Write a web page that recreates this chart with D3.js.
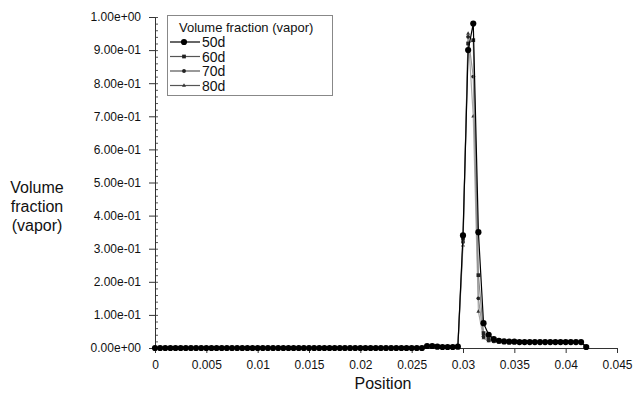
<!DOCTYPE html>
<html>
<head>
<meta charset="utf-8">
<script src="https://cdn.jsdelivr.net/npm/d3@7"></script>
<style>
  body { margin: 0; background: #fff; }
  svg { display: block; font-family: "Liberation Sans", Arial, sans-serif; }
</style>
</head>
<body>
<svg id="chart" width="633" height="405"></svg>
<script>
// positions along the line (m)
var positions = [
  0, 0.0005, 0.001, 0.0015, 0.002, 0.0025, 0.003, 0.0035, 0.004, 0.0045,
  0.005, 0.0055, 0.006, 0.0065, 0.007, 0.0075, 0.008, 0.0085, 0.009, 0.0095,
  0.01, 0.0105, 0.011, 0.0115, 0.012, 0.0125, 0.013, 0.0135, 0.014, 0.0145,
  0.015, 0.0155, 0.016, 0.0165, 0.017, 0.0175, 0.018, 0.0185, 0.019, 0.0195,
  0.02, 0.0205, 0.021, 0.0215, 0.022, 0.0225, 0.023, 0.0235, 0.024, 0.0245,
  0.025, 0.0255, 0.026, 0.0265, 0.027, 0.0275, 0.028, 0.0285, 0.029, 0.0295,
  0.03, 0.0305, 0.031, 0.0315, 0.032, 0.0325, 0.033, 0.0335, 0.034, 0.0345,
  0.035, 0.0355, 0.036, 0.0365, 0.037, 0.0375, 0.038, 0.0385, 0.039, 0.0395,
  0.04, 0.0405, 0.041, 0.0415, 0.042
];

var vf50 = [
  0, 0, 0, 0, 0, 0, 0, 0, 0, 0,
  0, 0, 0, 0, 0, 0, 0, 0, 0, 0,
  0, 0, 0, 0, 0, 0, 0, 0, 0, 0,
  0, 0, 0, 0, 0, 0, 0, 0, 0, 0,
  0, 0, 0, 0, 0, 0, 0, 0, 0, 0,
  0, 0, 0, 0.006, 0.006, 0.004, 0.003, 0.003, 0.003, 0.004,
  0.34, 0.90, 0.98, 0.35, 0.075, 0.04, 0.027, 0.022, 0.02, 0.019,
  0.019, 0.018, 0.018, 0.018, 0.018, 0.018, 0.018, 0.018, 0.018, 0.018,
  0.018, 0.018, 0.018, 0.018, 0.003
];
var vf60 = [
  0, 0, 0, 0, 0, 0, 0, 0, 0, 0,
  0, 0, 0, 0, 0, 0, 0, 0, 0, 0,
  0, 0, 0, 0, 0, 0, 0, 0, 0, 0,
  0, 0, 0, 0, 0, 0, 0, 0, 0, 0,
  0, 0, 0, 0, 0, 0, 0, 0, 0, 0,
  0, 0, 0, 0.006, 0.006, 0.004, 0.003, 0.003, 0.003, 0.004,
  0.33, 0.92, 0.93, 0.22, 0.045, 0.026, 0.021, 0.02, 0.019, 0.019,
  0.018, 0.018, 0.018, 0.018, 0.018, 0.018, 0.018, 0.018, 0.018, 0.018,
  0.018, 0.018, 0.018, 0.018, 0.003
];
var vf70 = [
  0, 0, 0, 0, 0, 0, 0, 0, 0, 0,
  0, 0, 0, 0, 0, 0, 0, 0, 0, 0,
  0, 0, 0, 0, 0, 0, 0, 0, 0, 0,
  0, 0, 0, 0, 0, 0, 0, 0, 0, 0,
  0, 0, 0, 0, 0, 0, 0, 0, 0, 0,
  0, 0, 0, 0.006, 0.006, 0.004, 0.003, 0.003, 0.003, 0.004,
  0.32, 0.94, 0.82, 0.15, 0.035, 0.023, 0.02, 0.019, 0.019, 0.018,
  0.018, 0.018, 0.018, 0.018, 0.018, 0.018, 0.018, 0.018, 0.018, 0.018,
  0.018, 0.018, 0.018, 0.018, 0.003
];
var vf80 = [
  0, 0, 0, 0, 0, 0, 0, 0, 0, 0,
  0, 0, 0, 0, 0, 0, 0, 0, 0, 0,
  0, 0, 0, 0, 0, 0, 0, 0, 0, 0,
  0, 0, 0, 0, 0, 0, 0, 0, 0, 0,
  0, 0, 0, 0, 0, 0, 0, 0, 0, 0,
  0, 0, 0, 0.006, 0.006, 0.004, 0.003, 0.003, 0.003, 0.004,
  0.31, 0.95, 0.70, 0.11, 0.03, 0.021, 0.02, 0.019, 0.018, 0.018,
  0.018, 0.018, 0.018, 0.018, 0.018, 0.018, 0.018, 0.018, 0.018, 0.018,
  0.018, 0.018, 0.018, 0.018, 0.003
];

var seriesNames = ["50d", "60d", "70d", "80d"];
var xTicks = [0, 0.005, 0.01, 0.015, 0.02, 0.025, 0.03, 0.035, 0.04, 0.045];
var yTicks = [0, 0.1, 0.2, 0.3, 0.4, 0.5, 0.6, 0.7, 0.8, 0.9, 1.0];

var svg = d3.select("#chart");

var x = d3.scaleLinear().domain([0, 0.045]).range([155, 617]);
var y = d3.scaleLinear().domain([0, 1]).range([348, 17]);

// look of each series
var styles = [
  {line: "#000", mark: "#000", sym: d3.symbolCircle, size: 30},
  {line: "#8a8a8a", mark: "#222", sym: d3.symbolSquare, size: 14},
  {line: "#9a9a9a", mark: "#222", sym: d3.symbolCircle, size: 12},
  {line: "#aaaaaa", mark: "#333", sym: d3.symbolTriangle, size: 7}
];

var allSeries = [vf50, vf60, vf70, vf80].map(function(vals, i) {
  return {name: seriesNames[i], pts: positions.map(function(p, j) { return [p, vals[j]]; })};
});

// x axis
var xAxis = svg.append("g")
  .attr("transform", "translate(0," + y(0) + ")")
  .call(d3.axisBottom(x).tickValues(xTicks).tickSize(5).tickPadding(7)
    .tickFormat(function(d) { return String(+d.toFixed(3)); }));
xAxis.select(".domain").attr("stroke", "#333");
xAxis.selectAll(".tick line").attr("stroke", "#333");
xAxis.selectAll("text").attr("font-size", 12).attr("fill", "#111")
  .attr("font-family", "Liberation Sans, Arial, sans-serif");

// y axis minor ticks
var minor = d3.range(0, 51).map(function(k) { return k / 50; });
var yMinor = svg.append("g")
  .attr("transform", "translate(" + x(0) + ",0)")
  .call(d3.axisRight(y).tickValues(minor).tickSize(3).tickFormat(""));
yMinor.select(".domain").remove();
yMinor.selectAll(".tick line").attr("stroke", "#555");

// y axis
var yAxis = svg.append("g")
  .attr("transform", "translate(" + x(0) + ",0)")
  .call(d3.axisLeft(y).tickValues(yTicks).tickSize(6).tickPadding(8)
    .tickFormat(function(d) {
      return d.toExponential(2).replace("e-", "e-0").replace("e+", "e+0");
    }));
yAxis.select(".domain").attr("stroke", "#333");
yAxis.selectAll(".tick line").attr("stroke", "#333");
yAxis.selectAll("text").attr("font-size", 12).attr("fill", "#111")
  .attr("font-family", "Liberation Sans, Arial, sans-serif");

// lines, drawn from the lightest one so 50d sits on top
var line = d3.line().x(function(d) { return x(d[0]); }).y(function(d) { return y(d[1]); });

for (var i = allSeries.length - 1; i >= 0; i--) {
  var s = allSeries[i], st = styles[i];
  svg.append("path")
    .datum(s.pts)
    .attr("d", line)
    .attr("fill", "none")
    .attr("stroke", st.line)
    .attr("stroke-width", 1.2);
  svg.append("g").selectAll("path")
    .data(s.pts)
    .enter().append("path")
    .attr("transform", function(d) { return "translate(" + x(d[0]) + "," + y(d[1]) + ")"; })
    .attr("d", d3.symbol().type(st.sym).size(st.size))
    .attr("fill", st.mark);
}

// legend
var legend = svg.append("g");
legend.append("rect")
  .attr("x", 167.5).attr("y", 15.5).attr("width", 165).attr("height", 80)
  .attr("fill", "#fff").attr("stroke", "#888");
legend.append("text")
  .attr("x", 179).attr("y", 32)
  .attr("font-size", 13).attr("fill", "#111")
  .text("Volume fraction (vapor)");
seriesNames.forEach(function(n, i) {
  var ly = 42 + i * 14.5;
  legend.append("line")
    .attr("x1", 170).attr("x2", 200).attr("y1", ly).attr("y2", ly)
    .attr("stroke", i === 0 ? "#000" : "#555").attr("stroke-width", 1.2);
  legend.append("path")
    .attr("transform", "translate(184," + ly + ")")
    .attr("d", d3.symbol().type(styles[i].sym).size(styles[i].size))
    .attr("fill", styles[i].mark);
  legend.append("text")
    .attr("x", 202).attr("y", ly + 5)
    .attr("font-size", 14).attr("fill", "#111")
    .text(n);
});

// axis titles
svg.append("text")
  .attr("x", 383).attr("y", 389)
  .attr("text-anchor", "middle")
  .attr("font-size", 16).attr("fill", "#111")
  .text("Position");

var yt = svg.append("text")
  .attr("text-anchor", "middle")
  .attr("font-size", 16).attr("fill", "#111");
["Volume", "fraction", "(vapor)"].forEach(function(t, i) {
  yt.append("tspan").attr("x", 37).attr("y", 193 + i * 19).text(t);
});
</script>
</body>
</html>
